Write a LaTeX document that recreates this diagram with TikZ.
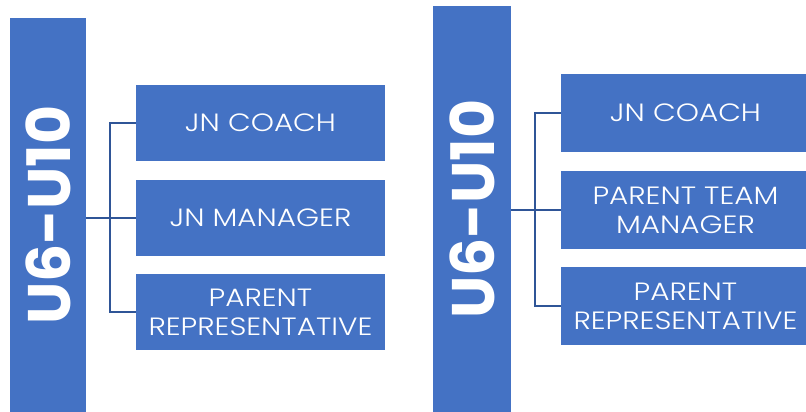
\documentclass[tikz,border=0pt]{standalone}
\usepackage{fontspec}
\setmainfont{Poppins}
\newfontfamily\rolefont{Poppins Light}[FakeStretch=1.18]
\usepackage{tikz}
\usetikzlibrary{positioning}

\definecolor{barblue}{HTML}{4472C4}
\definecolor{linkblue}{HTML}{2F5597}

\tikzset{
	bar/.style={fill=barblue, inner sep=0pt},
	agelabel/.style={text=white, rotate=90, font=\fontsize{60}{60}\selectfont\bfseries},
	role/.style={fill=barblue, text=white, inner sep=0pt, minimum width=249pt, align=center,
		font=\rolefont\fontsize{25}{29}\selectfont},
	link/.style={draw=linkblue, line width=1.6pt}
}

\begin{document}
\begin{tikzpicture}[x=1pt, y=-1pt]
	\useasboundingbox (0,0) rectangle (806,412);

	% left column
	\node[bar, minimum width=76pt, minimum height=394pt] (barL) at (48, 215) {};
	\node[agelabel] (ageL) at (barL.center) {U6-U10};
	\node[role, minimum height=76pt] (coachL) at (260.5, 123) {JN COACH};
	\node[role, minimum height=76pt] (managerL) at (260.5, 218) {JN MANAGER};
	\node[role, minimum height=76pt] (repL) at (260.5, 312) {PARENT\\REPRESENTATIVE};

	\draw[link] (coachL.west) -- ++(-26, 0) |- (repL.west);
	\draw[link] (barL.east |- managerL.west) -- (managerL.west);

	% right column
	\node[bar, minimum width=78pt, minimum height=406pt] (barR) at (472, 209) {};
	\node[agelabel] (ageR) at (barR.center) {U6-U10};
	\node[role, minimum height=78pt] (coachR) at (685.5, 113) {JN COACH};
	\node[role, minimum height=78pt] (managerR) at (685.5, 210) {PARENT TEAM\\MANAGER};
	\node[role, minimum height=78pt] (repR) at (685.5, 306) {PARENT\\REPRESENTATIVE};

	\draw[link] (coachR.west) -- ++(-26, 0) |- (repR.west);
	\draw[link] (barR.east |- managerR.west) -- (managerR.west);
\end{tikzpicture}
\end{document}
